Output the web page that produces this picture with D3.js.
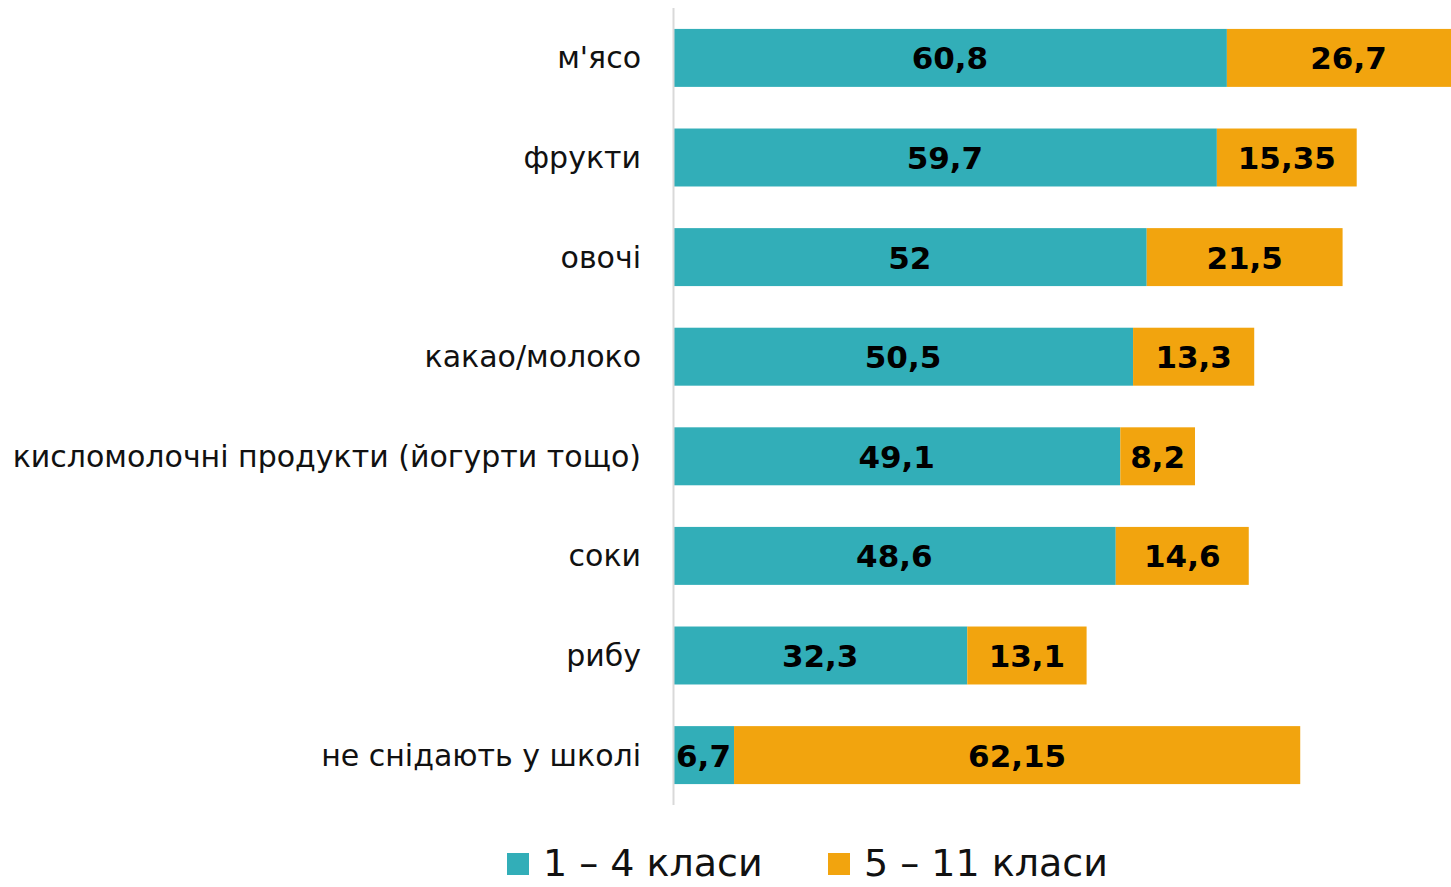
<!DOCTYPE html>
<html>
<head>
<meta charset="utf-8">
<script src="https://cdn.jsdelivr.net/npm/d3@7"></script>
<style>
  body { margin: 0; background: #fff; }
  svg text { font-family: "Century Gothic", "URW Gothic", "DejaVu Sans", sans-serif; }
</style>
</head>
<body>
<div id="chart"></div>
<script>
var categories = ["м'ясо", "фрукти", "овочі", "какао/молоко", "кисломолочні продукти (йогурти тощо)", "соки", "рибу", "не снідають у школі"];
var juniorValues = [60.8, 59.7, 52, 50.5, 49.1, 48.6, 32.3, 6.7];
var seniorValues = [26.7, 15.35, 21.5, 13.3, 8.2, 14.6, 13.1, 62.15];
var seriesNames = ["1 – 4 класи", "5 – 11 класи"];
var seriesColors = ["#32AEB8", "#F2A40E"];

var width = 1451, height = 887;

var svg = d3.select("#chart")
    .append("svg")
    .attr("width", width)
    .attr("height", height)

var x = d3.scaleLinear().domain([0, 85.4]).range([673, 1451]);
var y = d3.scaleBand().domain(categories).range([8, 805]).paddingInner(0.418).paddingOuter(0.21);

var fmt = function(v){ return String(v).replace(".", ","); };

var rows = categories.map(function(c, i){
    return {cat: c, a: juniorValues[i], b: seniorValues[i]};
});

// category labels
svg.append("g").selectAll("text")
    .data(categories)
    .enter().append("text")
    .attr("x", 641)
    .attr("y", function(d){ return y(d) + y.bandwidth()/2; })
    .attr("dy", "0.35em")
    .attr("text-anchor", "end")
    .attr("font-size", 30)
    .attr("fill", "#111")
    .text(function(d){ return d; })

var bars = svg.append("g");

rows.forEach(function(r){
    var segs = [
        {x0: 0, x1: r.a, v: r.a, color: seriesColors[0]},
        {x0: r.a, x1: r.a + r.b, v: r.b, color: seriesColors[1]}
    ];
    segs.forEach(function(s){
        bars.append("rect")
            .attr("x", x(s.x0))
            .attr("y", y(r.cat))
            .attr("width", x(s.x1) - x(s.x0))
            .attr("height", y.bandwidth())
            .attr("fill", s.color)
        bars.append("text")
            .attr("x", (x(s.x0) + x(s.x1)) / 2)
            .attr("y", y(r.cat) + y.bandwidth()/2)
            .attr("dy", "0.37em")
            .attr("text-anchor", "middle")
            .attr("font-size", 31)
            .attr("font-weight", "bold")
            .attr("fill", "#000")
            .text(fmt(s.v))
    });
});

// vertical axis line
svg.append("line")
    .attr("x1", 673.5).attr("x2", 673.5)
    .attr("y1", 8).attr("y2", 805)
    .attr("stroke", "#d9d9d9")
    .attr("stroke-width", 2)

// legend
var legendX = [507, 828];
var legend = svg.append("g");
seriesNames.forEach(function(n, i){
    legend.append("rect")
        .attr("x", legendX[i]).attr("y", 853)
        .attr("width", 22).attr("height", 22)
        .attr("fill", seriesColors[i])
    legend.append("text")
        .attr("x", legendX[i] + 36).attr("y", 876)
        .attr("font-size", 38)
        .attr("fill", "#111")
        .text(n)
});
</script>
</body>
</html>
